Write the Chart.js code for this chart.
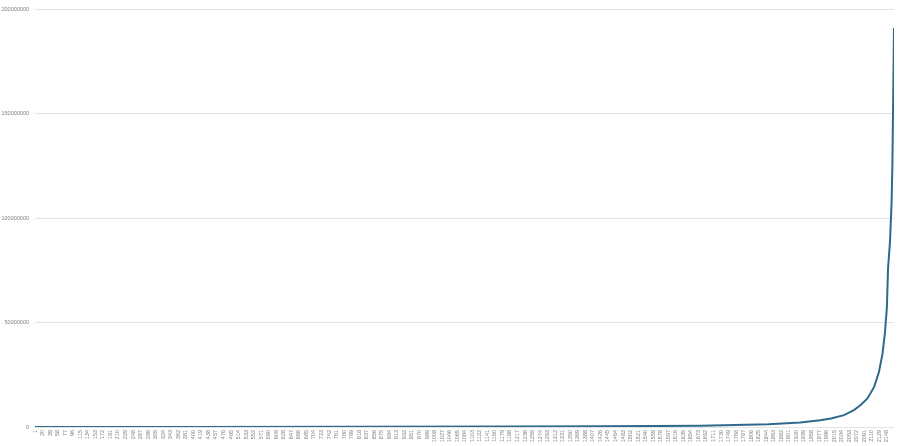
<!DOCTYPE html>
<html>
<head>
<meta charset="utf-8">
<script src="https://cdn.jsdelivr.net/npm/chart.js@4/dist/chart.umd.min.js"></script>
<style>
  html, body { margin: 0; padding: 0; background: #fff; }
  #wrap { width: 900px; height: 446px; }
</style>
</head>
<body>
<div id="wrap"><canvas id="c"></canvas></div>
<script>
// points (row number, value)
var rowNo = [1, 400, 800, 1200, 1430, 1680, 1850, 1930, 1980, 2007, 2040, 2065, 2082, 2099, 2116, 2128, 2137, 2143, 2148, 2151, 2156, 2160, 2162, 2166];
var values = [0, 50000, 100000, 200000, 300000, 600000, 1300000, 2100000, 3200000, 4100000, 5700000, 8100000, 10500000, 13700000, 19200000, 26300000, 35000000, 44800000, 57000000, 76000000, 89000000, 108000000, 126000000, 191000000];
var yTicks = [0, 50000000, 100000000, 150000000, 200000000];
var xTicks = [];
for (var t = 1; t <= 2148; t += 19) xTicks.push(t);

var pts = [];
for (var i = 0; i < rowNo.length; i++) {
    pts.push({ x: rowNo[i], y: values[i] });
}

var ctx = document.getElementById('c');
var myChart = new Chart(ctx, {
    type: 'line',
    data: {
        datasets: [
            {
                data: pts,
                borderColor: '#2f6a8d',
                borderWidth: 2,
                pointRadius: 0,
                tension: 0,
                fill: false
            }
        ]
    },
    options: {
        responsive: true,
        maintainAspectRatio: false,
        animation: false,
        layout: { padding: { top: 7, right: 6, left: 0, bottom: 0 } },
        plugins: {
            legend: { display: false },
            tooltip: { enabled: false }
        },
        scales: {
            x: {
                type: 'linear',
                min: 1,
                max: 2166,
                afterBuildTicks: function (scale) {
                    scale.ticks = xTicks.map(function (v) { return { value: v }; });
                },
                afterFit: function (scale) { scale.height = 19; },
                grid: { display: false, drawTicks: false },
                border: { display: false },
                ticks: {
                    autoSkip: false,
                    maxRotation: 90,
                    minRotation: 90,
                    padding: 3,
                    color: '#7f7f7f',
                    font: { family: 'Liberation Sans', size: 5.5 },
                    callback: function (v) { return String(v); }
                }
            },
            y: {
                min: 0,
                max: 200000000,
                afterBuildTicks: function (scale) {
                    scale.ticks = yTicks.map(function (v) { return { value: v }; });
                },
                afterFit: function (scale) { scale.width = 35; },
                grid: { color: '#e3e3e3', lineWidth: 1, drawTicks: false },
                border: { display: false },
                ticks: {
                    padding: 6,
                    color: '#7f7f7f',
                    font: { family: 'Liberation Sans', size: 5.5 },
                    callback: function (v) { return String(v); }
                }
            }
        }
    }
});
</script>
</body>
</html>
